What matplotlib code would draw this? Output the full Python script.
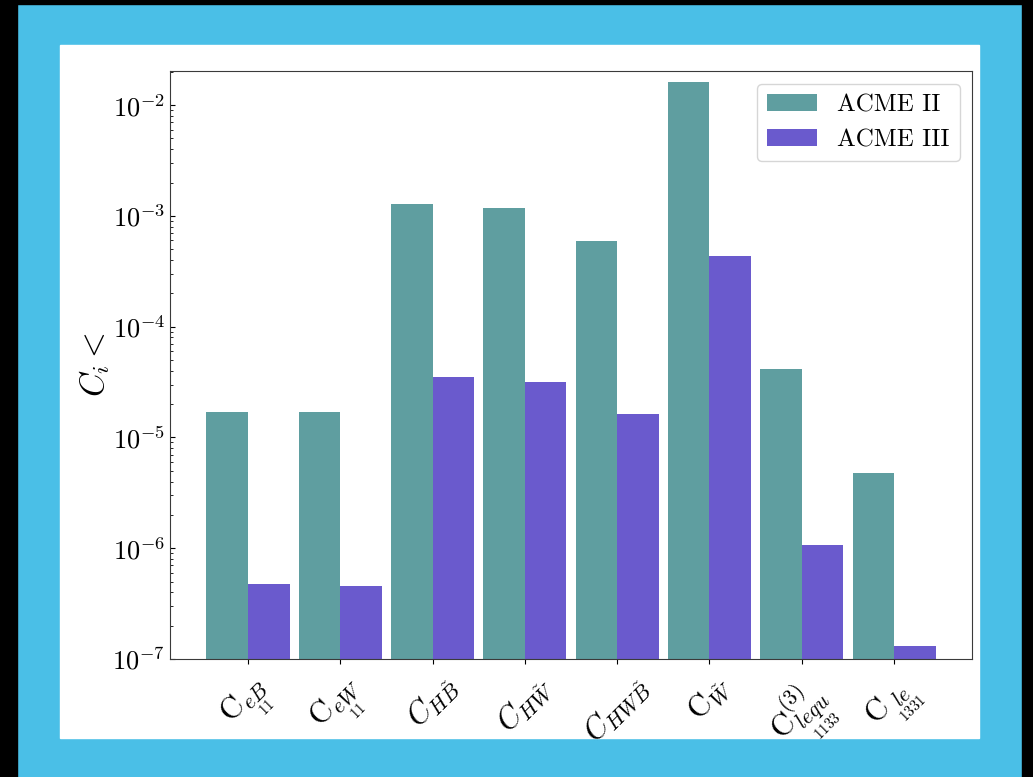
import matplotlib

matplotlib.use('Agg')

import matplotlib.pyplot as plt
import numpy as np
from matplotlib.patches import Rectangle


plt.rcParams['font.family'] = 'serif'
plt.rcParams['font.serif'] = ['cmr10', 'DejaVu Serif']
plt.rcParams['mathtext.fontset'] = 'cm'
plt.rcParams['axes.formatter.use_mathtext'] = True

OPERATORS = [
    r'$\mathrm{C}_{\underset{11}{eB}}$',
    r'$\mathrm{C}_{\underset{11}{eW}}$',
    r'$C_{H\tilde{B}}$',
    r'$C_{H\tilde{W}}$',
    r'$C_{HW\tilde{B}}$',
    r'$\mathrm{C}_{\tilde{W}}$',
    r'$\mathrm{C}^{(3)}_{\underset{1133}{lequ}}$',
    r'$\mathrm{C}_{\underset{1331}{le}}$',
]
ACME_II = [1.69e-5, 1.69e-5, 1.28e-3, 1.17e-3, 5.9e-4, 1.61e-2, 4.14e-5, 4.77e-6]
ACME_III = [4.75e-7, 4.56e-7, 3.51e-5, 3.16e-5, 1.63e-5, 4.34e-4, 1.07e-6, 1.31e-7]

FRAME_BLUE = '#4abfe7'
BAR_WIDTH = 0.45


def add_rect(fig, x0, y0, w, h, color):
    fig.patches.append(Rectangle((x0, y0), w, h, transform=fig.transFigure,
                                 color=color, zorder=-5))


def draw_frame(fig):
    # black edges and a white card on the blue background
    add_rect(fig, 0, 0, 0.0165, 1, 'black')
    add_rect(fig, 0.9894, 0, 0.0106, 1, 'black')
    add_rect(fig, 0, 0.9949, 1, 0.0051, 'black')
    add_rect(fig, 0.0581, 0.0502, 0.8896, 0.8919, 'white')


def main():
    fig = plt.figure(figsize=(10.33, 7.77), dpi=100, facecolor=FRAME_BLUE)
    draw_frame(fig)

    ax = fig.add_axes([0.1646, 0.1519, 0.7764, 0.7567])
    x = np.arange(len(OPERATORS))
    ax.bar(x - BAR_WIDTH / 2, ACME_II, width=BAR_WIDTH, color='cadetblue',
           label='ACME II')
    ax.bar(x + BAR_WIDTH / 2, ACME_III, width=BAR_WIDTH, color='slateblue',
           label='ACME III')

    ax.set_yscale('log')
    ax.set_ylim(1e-7, 2.03e-2)
    ax.set_xticks(x)
    ax.set_xticklabels(OPERATORS, rotation=45, ha='center', fontsize=22)
    ax.tick_params(axis='x', pad=5)
    ax.tick_params(axis='y', which='both', direction='in', labelsize=19)
    ax.set_ylabel(r'$C_i <$', fontsize=24, labelpad=0)

    for spine in ax.spines.values():
        spine.set_color('#3a3a3a')

    ax.legend(loc='upper right', fontsize=18)

    fig.savefig('out.png', dpi=100, facecolor=FRAME_BLUE)
    plt.close(fig)


if __name__ == '__main__':
    main()
